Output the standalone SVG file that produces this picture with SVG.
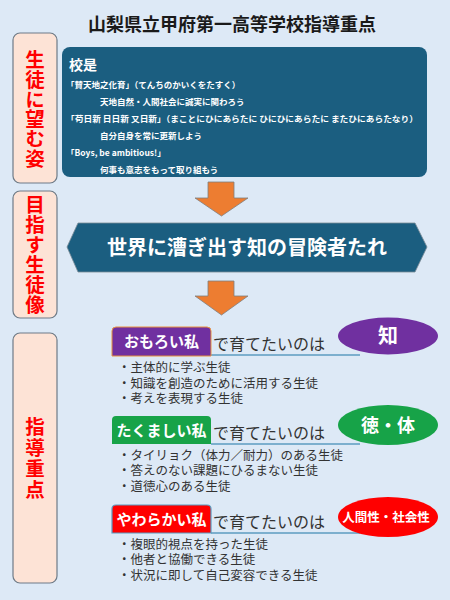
<svg xmlns="http://www.w3.org/2000/svg" width="450" height="600" viewBox="0 0 450 600">
<style>
text{font-family:"Noto Sans CJK JP","Noto Sans",sans-serif}
.side{fill:#fde3d6;stroke:#6e7b87;stroke-width:1.2}
.sidet{fill:#ff0000;font-size:19.5px;font-weight:bold;writing-mode:vertical-rl}
.dark{fill:#1b5e80}
.w{fill:#ffffff;font-weight:bold}
.motto{fill:#ffffff;font-weight:bold;font-size:8.5px}
.arrow{fill:#ed7d31;stroke:#7f7f7f;stroke-width:0.8}
.lbl{fill:#ffffff;font-weight:bold;font-size:15px;text-anchor:middle}
.sodate{fill:#333333;font-size:16px}
.bul{fill:#333333;font-size:12.5px;font-family:"Liberation Sans","Noto Sans CJK JP",sans-serif}
.uline{stroke:#5b9bc0;stroke-width:1.5;fill:none}
</style>
<rect width="450" height="600" fill="#dde9f6"/>
<text x="232" y="31" text-anchor="middle" font-size="18" font-weight="bold" fill="#1a1a1a">山梨県立甲府第一高等学校指導重点</text>

<g id="side1">
<rect class="side" x="13" y="33" width="44" height="150" rx="7"/>
<text class="sidet" x="35" y="50" letter-spacing="0.2">生徒に望む姿</text>
</g>
<g id="side2">
<rect class="side" x="13" y="191" width="44" height="127" rx="7"/>
<text class="sidet" x="35" y="194.5" letter-spacing="0.5">目指す生徒像</text>
</g>
<g id="side3">
<rect class="side" x="13" y="333" width="44" height="250" rx="7"/>
<text class="sidet" x="35" y="416.5" letter-spacing="1.5">指導重点</text>
</g>

<g id="kouze">
<rect class="dark" x="62" y="47" width="365" height="130" rx="8"/>
<text class="w" x="69" y="70" font-size="14">校是</text>
<text class="motto" x="66" y="87.5">「賛天地之化育」（てんちのかいくをたすく）</text>
<text class="motto" x="100" y="104.5">天地自然・人間社会に誠実に関わろう</text>
<text class="motto" x="66" y="121.5" textLength="352" lengthAdjust="spacingAndGlyphs">「苟日新 日日新 又日新」（まことにひにあらたに ひにひにあらたに またひにあらたなり）</text>
<text class="motto" x="100" y="138.5">自分自身を常に更新しよう</text>
<text class="motto" x="66" y="155.5">「Boys, be ambitious!」</text>
<text class="motto" x="100" y="172.5">何事も意志をもって取り組もう</text>
</g>

<g id="connectors">
<path class="arrow" d="M208,182 H234 V198 H248 L221.5,216 L195,198 H208 Z"/>
<path class="arrow" d="M208,281 H234 V296 H248 L221.5,315 L195,296 H208 Z"/>
</g>

<g id="banner">
<polygon class="dark" points="67,247 78,223 415,223 427,247 415,272 78,272" stroke="#7a8a96" stroke-width="0.8"/>
<text class="w" x="247" y="254.5" font-size="20" text-anchor="middle">世界に漕ぎ出す知の冒険者たれ</text>
</g>

<g id="sec1">
<path class="uline" d="M211,355 H360"/>
<path d="M112,356 V331 Q112,327 116,327 H207 Q211,327 211,331 V356 Z" fill="#7030a0" stroke="#e8913f" stroke-width="1"/>
<text class="lbl" x="161.5" y="347">おもろい私</text>
<text class="sodate" x="213" y="350">で育てたいのは</text>
<ellipse cx="388" cy="336" rx="50" ry="18.5" fill="#7030a0"/>
<text class="w" x="388" y="343" font-size="20" text-anchor="middle">知</text>
<text class="bul" x="118" y="372">・主体的に学ぶ生徒</text>
<text class="bul" x="118" y="387.5">・知識を創造のために活用する生徒</text>
<text class="bul" x="118" y="403">・考えを表現する生徒</text>
</g>

<g id="sec2">
<path class="uline" d="M211,444 H360"/>
<path d="M112,444 V420 Q112,416 116,416 H207 Q211,416 211,420 V444 Z" fill="#17a348"/>
<text class="lbl" x="161.5" y="435.5">たくましい私</text>
<text class="sodate" x="213" y="439">で育てたいのは</text>
<ellipse cx="388" cy="425" rx="50" ry="20" fill="#17a348"/>
<text class="w" x="388" y="431.5" font-size="18" text-anchor="middle">徳・体</text>
<text class="bul" x="118" y="459.5">・タイリョク（体力／耐力）のある生徒</text>
<text class="bul" x="118" y="475">・答えのない課題にひるまない生徒</text>
<text class="bul" x="118" y="490.5">・道徳心のある生徒</text>
</g>

<g id="sec3">
<path class="uline" d="M211,533 H360"/>
<path d="M112,533 V509 Q112,505 116,505 H207 Q211,505 211,509 V533 Z" fill="#ff0000" stroke="#5b9bc0" stroke-width="1.2"/>
<text class="lbl" x="161.5" y="524.5">やわらかい私</text>
<text class="sodate" x="213" y="528">で育てたいのは</text>
<ellipse cx="388" cy="517" rx="50" ry="20" fill="#ff0000"/>
<text class="w" x="386" y="521.5" font-size="12.5" text-anchor="middle">人間性・社会性</text>
<text class="bul" x="118" y="548.5">・複眼的視点を持った生徒</text>
<text class="bul" x="118" y="564">・他者と協働できる生徒</text>
<text class="bul" x="118" y="580">・状況に即して自己変容できる生徒</text>
</g>
</svg>
